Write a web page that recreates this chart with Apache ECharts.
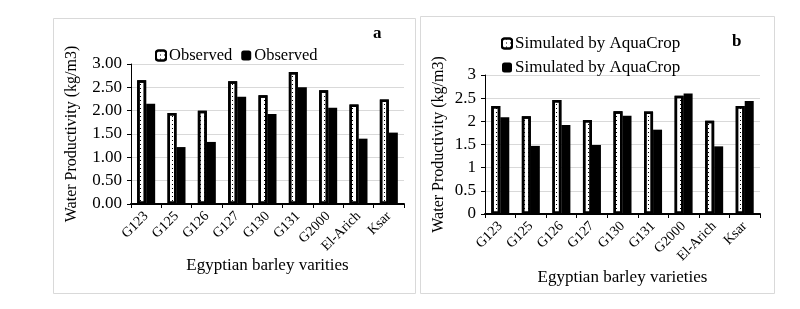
<!DOCTYPE html>
<html>
<head>
<meta charset="utf-8">
<script src="https://cdn.jsdelivr.net/npm/echarts@6/dist/echarts.min.js"></script>
<style>html,body{margin:0;padding:0;background:#fff;}#c{width:800px;height:309px;}</style>
</head>
<body>
<div id="c"></div>
<script>
var categories = ['G123','G125','G126','G127','G130','G131','G2000','El-Arich','Ksar'];
var obsA1 = [2.65, 1.95, 2.00, 2.63, 2.33, 2.83, 2.44, 2.13, 2.24];
var obsA2 = [2.15, 1.22, 1.33, 2.30, 1.93, 2.50, 2.06, 1.40, 1.53];
var simB1 = [2.33, 2.11, 2.46, 2.03, 2.22, 2.21, 2.55, 2.01, 2.33];
var simB2 = [2.09, 1.47, 1.92, 1.49, 2.12, 1.82, 2.60, 1.46, 2.44];
var yTicksA = ['0.00','0.50','1.00','1.50','2.00','2.50','3.00'];
var yTicksB = ['0','0.5','1','1.5','2','2.5','3'];

var FONT = 'Liberation Serif';
var chart = echarts.init(document.getElementById('c'), null, {renderer: 'canvas'});

var dotted = {
  color: '#ffffff',
  borderColor: '#000000',
  borderWidth: 2.5,
  decal: {symbol: 'rect', symbolSize: 1, color: '#000000', dashArrayX: [1, 3], dashArrayY: [1, 3]}
};
var solid = {color: '#000000'};

function xAxis(gi, name, gap) {
  return {
    type: 'category', gridIndex: gi, data: categories,
    axisLine: {lineStyle: {color: '#000', width: 2}},
    axisTick: {show: true, length: 4, lineStyle: {color: '#000'}},
    axisLabel: {rotate: 45, fontFamily: FONT, fontSize: 14, color: '#000', margin: 10, interval: 0},
    name: name, nameLocation: 'middle', nameGap: gap,
    nameTextStyle: {fontFamily: FONT, fontSize: 17, color: '#000'}
  };
}
function yAxis(gi, ticks, gap) {
  return {
    type: 'value', gridIndex: gi, min: 0, max: 3, interval: 0.5,
    axisLine: {show: true, lineStyle: {color: '#000', width: 1}},
    axisTick: {show: true, length: 4, lineStyle: {color: '#000'}},
    splitLine: {lineStyle: {color: '#d9d9d9', width: 1}},
    axisLabel: {fontFamily: FONT, fontSize: 17, color: '#000', margin: 9,
      formatter: function (v) { return ticks[Math.round(v / 0.5)]; }},
    name: 'Water Productivity (kg/m3)', nameLocation: 'middle', nameGap: gap,
    nameTextStyle: {fontFamily: FONT, fontSize: 16, color: '#000'}
  };
}

chart.setOption({
  animation: false,
  backgroundColor: '#ffffff',
  grid: [
    {left: 131, top: 64, width: 273, height: 140},
    {left: 485, top: 75, width: 275, height: 139}
  ],
  xAxis: [xAxis(0, 'Egyptian barley varities', 52), xAxis(1, 'Egyptian barley varieties', 55)],
  yAxis: [yAxis(0, yTicksA, 51), yAxis(1, yTicksB, 38)],
  legend: [
    {data: ['Observed', 'Observed '], left: 150, top: 42, orient: 'horizontal',
     itemWidth: 10, itemHeight: 10, itemGap: 9,
     textStyle: {fontFamily: FONT, fontSize: 16.5, color: '#000', padding: [0, 0, 0, -2]}},
    {data: ['Simulated by AquaCrop', 'Simulated by AquaCrop '], left: 496, top: 30, orient: 'vertical',
     itemWidth: 10, itemHeight: 10, itemGap: 7,
     textStyle: {fontFamily: FONT, fontSize: 17, color: '#000', padding: [0, 0, 0, -2]}}
  ],
  series: [
    {name: 'Observed', type: 'bar', xAxisIndex: 0, yAxisIndex: 0, data: obsA1, barWidth: 9, barGap: '0%', itemStyle: dotted},
    {name: 'Observed ', type: 'bar', xAxisIndex: 0, yAxisIndex: 0, data: obsA2, barWidth: 9, barGap: '0%', itemStyle: solid},
    {name: 'Simulated by AquaCrop', type: 'bar', xAxisIndex: 1, yAxisIndex: 1, data: simB1, barWidth: 9, barGap: '0%', itemStyle: dotted},
    {name: 'Simulated by AquaCrop ', type: 'bar', xAxisIndex: 1, yAxisIndex: 1, data: simB2, barWidth: 9, barGap: '0%', itemStyle: solid}
  ],
  graphic: [
    {type: 'rect', shape: {x: 53.5, y: 18.5, width: 362, height: 275}, style: {fill: 'none', stroke: '#d9d9d9', lineWidth: 1}, silent: true},
    {type: 'rect', shape: {x: 420.5, y: 16.5, width: 354, height: 277}, style: {fill: 'none', stroke: '#d9d9d9', lineWidth: 1}, silent: true},
    {type: 'text', left: 373, top: 25, style: {text: 'a', font: 'bold 17px "Liberation Serif"', fill: '#000'}},
    {type: 'text', left: 732, top: 33, style: {text: 'b', font: 'bold 17px "Liberation Serif"', fill: '#000'}}
  ]
});
</script>
</body>
</html>
